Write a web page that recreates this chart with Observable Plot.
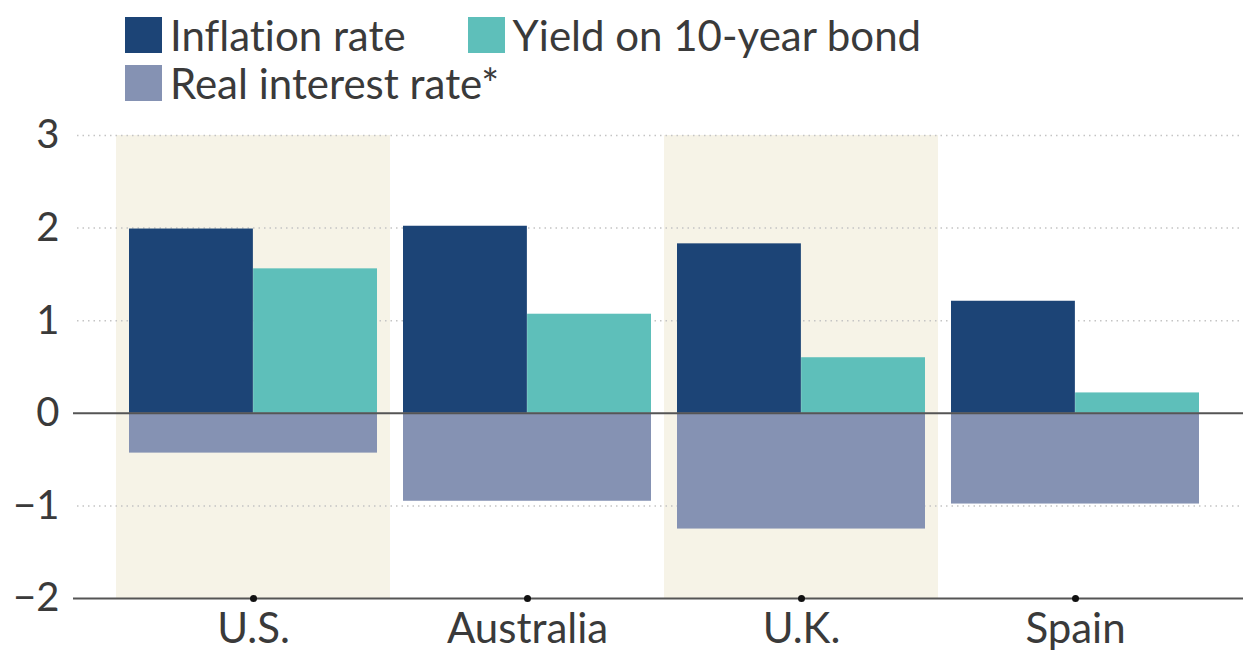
<!DOCTYPE html>
<html>
<head>
<meta charset="utf-8">
<script src="https://cdn.jsdelivr.net/npm/d3@7"></script>
<script src="https://cdn.jsdelivr.net/npm/@observablehq/plot@0.6"></script>
<style>
  html, body { margin: 0; padding: 0; background: #fff; }
  body { width: 1243px; height: 654px; overflow: hidden; font-family: Lato, "Open Sans", sans-serif; color: #3a3a3a; font-variant-ligatures: none; }
  #legend { height: 110px; box-sizing: border-box; padding: 17px 0 0 125px; }
  .row { display: flex; height: 48px; align-items: flex-start; }
  .item { display: flex; align-items: center; margin-right: 62px; }
  .sw { width: 37px; height: 36px; margin-right: 8px; }
  .lab { font-size: 42px; line-height: 36px; white-space: nowrap; }
  #chart svg text { font-variant-ligatures: none; }
  #chart svg g[aria-label^="x-axis"] text { font-size: 42px; }
  #chart svg g[aria-label^="y-axis"] text { font-size: 40px; }
</style>
</head>
<body>
<div id="legend"></div>
<div id="chart"></div>
<script>
const countries = ["U.S.", "Australia", "U.K.", "Spain"];
const shaded = ["U.S.", "U.K."];
const inflation = [1.99, 2.02, 1.83, 1.21];
const yieldBond = [1.56, 1.07, 0.60, 0.22];
const realRate = [-0.43, -0.95, -1.25, -0.98];
const yTicks = [-2, -1, 0, 1, 2, 3];
const gridTicks = [-1, 1, 2, 3];
const seriesNames = ["Inflation rate", "Yield on 10-year bond", "Real interest rate*"];
const seriesColors = ["#1c4476", "#5ebfba", "#8592b3"];

// legend
const legend = document.getElementById("legend");
const rows = [[0, 1], [2]];
rows.forEach(r => {
  const row = document.createElement("div");
  row.className = "row";
  r.forEach(i => {
    const it = document.createElement("div");
    it.className = "item";
    const sw = document.createElement("div");
    sw.className = "sw";
    sw.style.background = seriesColors[i];
    const lab = document.createElement("span");
    lab.className = "lab";
    lab.textContent = seriesNames[i];
    it.appendChild(sw); it.appendChild(lab);
    row.appendChild(it);
  });
  legend.appendChild(row);
});

const W = 1243, H = 544, ML = 115, MR = 31, MT = 25, MB = 56;
const bw = (W - ML - MR) / countries.length;
const inset = 13;

const data = countries.map((c, i) => ({country: c, inflation: inflation[i], yield: yieldBond[i], real: realRate[i]}));

const chart = Plot.plot({
  width: W, height: H,
  marginLeft: ML, marginRight: MR, marginTop: MT, marginBottom: MB,
  style: {fontFamily: "Lato, 'Open Sans', sans-serif", fontSize: "40px", color: "#3a3a3a", background: "#fff", overflow: "visible"},
  x: {type: "band", domain: countries, padding: 0, tickSize: 0, tickPadding: 15, label: null},
  y: {domain: [yTicks[0], yTicks[yTicks.length - 1]], ticks: yTicks, tickSize: 0, tickPadding: 56, label: null, tickFormat: d3.format("d")},
  marks: [
    Plot.barY(shaded, {x: d => d, y1: () => yTicks[0], y2: () => yTicks[yTicks.length - 1], fill: "#f6f3e7"}),
    Plot.ruleY(gridTicks, {stroke: "#c4c4c4", strokeWidth: 1.5, strokeDasharray: "1.5,4", insetLeft: -38, insetRight: -MR}),
    Plot.barY(data, {x: "country", y: "inflation", fill: seriesColors[0], insetLeft: inset, insetRight: bw / 2}),
    Plot.barY(data, {x: "country", y: "yield", fill: seriesColors[1], insetLeft: bw / 2, insetRight: inset}),
    Plot.barY(data, {x: "country", y: "real", fill: seriesColors[2], insetLeft: inset, insetRight: inset}),
    Plot.ruleY([0], {stroke: "#555", strokeWidth: 2, insetLeft: -42, insetRight: -MR}),
    Plot.ruleY([yTicks[0]], {stroke: "#555", strokeWidth: 2, insetLeft: -42, insetRight: -MR}),
    Plot.dot(countries, {x: d => d, y: () => yTicks[0], r: 3.5, fill: "#111", stroke: null})
  ]
});
document.getElementById("chart").appendChild(chart);
</script>
</body>
</html>
